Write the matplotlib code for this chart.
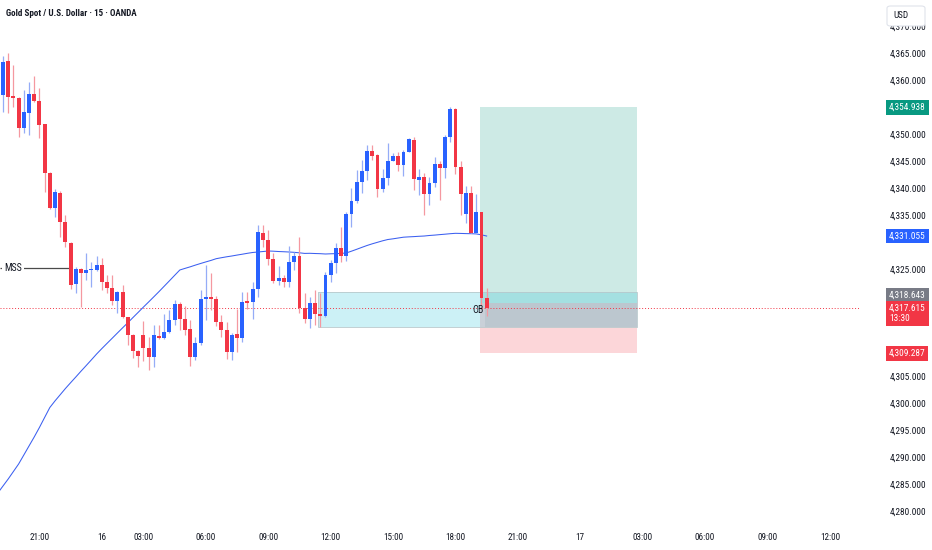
import numpy as np
import matplotlib.pyplot as plt
import matplotlib.patches as mpatches
import matplotlib.transforms as mtransforms
from matplotlib import font_manager as fm
from matplotlib.textpath import TextPath

DPI = 100

# 15m candles, bar index starts at -7 (first visible bar)
first_bar = -7
opens = [4357.26, 4363.63, 4356.98, 4356.64, 4351.07, 4353.97, 4357.39, 4356.20, 4351.82, 4342.72,
         4336.22, 4339.11, 4333.73, 4329.83, 4322.10, 4325.00, 4324.26, 4324.67, 4324.76, 4325.63,
         4322.53, 4321.42, 4319.00, 4320.67, 4315.97, 4312.69, 4309.72, 4312.74, 4310.22, 4308.55,
         4312.50, 4312.19, 4313.30, 4315.47, 4318.39, 4315.66, 4313.75, 4308.55, 4311.15, 4319.32,
         4319.80, 4319.32, 4315.16, 4313.62, 4309.59, 4312.82, 4312.08, 4318.87, 4318.76, 4321.17,
         4331.69, 4330.33, 4326.75, 4322.77, 4323.22, 4322.59, 4326.30, 4327.36, 4317.65, 4315.72,
         4318.69, 4316.53, 4316.27, 4323.83, 4326.00, 4328.79, 4327.41, 4335.10, 4337.63, 4341.16,
         4343.20, 4346.91, 4346.06, 4339.75, 4341.90, 4345.06, 4345.93, 4344.26, 4346.73, 4348.90,
         4341.47, 4342.08, 4338.87, 4340.97, 4344.44, 4343.64, 4349.40, 4354.60, 4343.94, 4335.16,
         4339.00, 4331.69, 4335.47, 4319.50]
closes = [4363.44, 4356.94, 4356.79, 4351.07, 4354.16, 4357.39, 4356.20, 4351.69, 4342.72, 4336.22,
          4339.30, 4333.73, 4329.90, 4321.97, 4325.00, 4324.15, 4324.76, 4324.85, 4325.63, 4322.53,
          4321.36, 4319.00, 4320.67, 4315.97, 4312.69, 4309.72, 4308.73, 4310.22, 4308.55, 4312.69,
          4312.19, 4313.30, 4315.47, 4318.39, 4315.66, 4313.62, 4308.55, 4311.15, 4319.32, 4319.80,
          4319.32, 4315.16, 4313.62, 4309.59, 4312.69, 4312.08, 4318.76, 4318.72, 4321.17, 4331.87,
          4330.33, 4326.75, 4322.72, 4323.22, 4322.59, 4326.30, 4327.36, 4317.65, 4315.72, 4318.57,
          4316.59, 4316.27, 4323.83, 4326.00, 4328.79, 4327.41, 4335.10, 4337.63, 4341.16, 4343.20,
          4346.91, 4345.93, 4339.75, 4341.90, 4345.06, 4345.87, 4344.26, 4346.73, 4349.03, 4341.60,
          4342.08, 4338.87, 4340.97, 4344.44, 4343.64, 4349.51, 4354.60, 4343.83, 4338.87, 4339.00,
          4331.69, 4335.47, 4319.50, 4317.61]
highs = [4364.50, 4365.00, 4362.83, 4356.89, 4358.18, 4359.73, 4360.78, 4358.50, 4351.87, 4342.96,
         4339.80, 4339.43, 4334.97, 4329.96, 4325.37, 4325.22, 4327.86, 4326.30, 4327.36, 4326.93,
         4323.78, 4323.83, 4320.86, 4321.97, 4316.03, 4312.87, 4309.90, 4315.38, 4312.37, 4314.55,
         4314.55, 4316.59, 4317.33, 4319.19, 4318.87, 4318.07, 4315.47, 4312.37, 4321.04, 4325.69,
         4324.15, 4319.93, 4316.40, 4315.16, 4313.00, 4317.46, 4320.73, 4320.73, 4322.59, 4333.12,
         4333.12, 4332.19, 4327.86, 4325.50, 4323.83, 4329.22, 4328.16, 4330.94, 4320.49, 4319.80,
         4321.04, 4320.43, 4324.44, 4326.62, 4329.72, 4332.80, 4335.58, 4339.93, 4343.33, 4345.19,
         4347.97, 4347.97, 4346.30, 4343.46, 4348.29, 4346.43, 4346.73, 4347.04, 4349.27, 4349.51,
         4343.46, 4342.72, 4342.08, 4345.80, 4345.00, 4349.83, 4354.97, 4354.84, 4345.00, 4340.36,
         4340.36, 4338.87, 4335.62, 4321.36]
lows = [4354.16, 4353.97, 4355.03, 4349.51, 4350.20, 4349.83, 4356.05, 4349.22, 4339.30, 4336.09,
        4334.66, 4330.94, 4329.09, 4321.17, 4320.43, 4317.94, 4322.90, 4321.66, 4324.57, 4321.04,
        4320.43, 4318.26, 4316.77, 4315.84, 4310.83, 4308.36, 4306.75, 4307.86, 4306.19, 4306.80,
        4311.95, 4311.95, 4313.15, 4314.55, 4313.62, 4312.69, 4306.93, 4308.05, 4310.83, 4315.47,
        4317.33, 4314.36, 4312.37, 4308.18, 4308.05, 4309.59, 4311.44, 4317.46, 4315.60, 4319.80,
        4329.09, 4325.69, 4322.29, 4321.97, 4321.55, 4321.66, 4324.76, 4316.72, 4314.92, 4313.93,
        4314.55, 4314.23, 4316.12, 4322.59, 4324.15, 4326.30, 4326.49, 4332.80, 4337.14, 4339.00,
        4341.47, 4345.19, 4338.37, 4339.30, 4340.54, 4345.00, 4343.20, 4342.21, 4346.67, 4339.61,
        4338.69, 4334.97, 4336.83, 4340.12, 4337.76, 4341.79, 4348.58, 4342.59, 4334.97, 4333.54,
        4331.57, 4331.54, 4318.26, 4316.22]

# moving average, one value per bar starting one bar before the first candle
ma_first_bar = -8
ma = [4283.35, 4284.65, 4285.95, 4287.34, 4288.73, 4290.40, 4292.08, 4293.75, 4295.51, 4297.37,
      4299.22, 4300.45, 4301.60, 4302.75, 4303.83, 4304.89, 4305.97, 4307.02, 4308.08, 4309.16,
      4310.16, 4311.13, 4312.09, 4313.06, 4314.02, 4314.97, 4315.94, 4316.90, 4317.87, 4318.82,
      4319.78, 4320.75, 4321.75, 4322.75, 4323.76, 4324.76, 4325.06, 4325.35, 4325.67, 4325.97,
      4326.26, 4326.54, 4326.86, 4327.04, 4327.21, 4327.36, 4327.53, 4327.69, 4327.86, 4328.01,
      4328.10, 4328.19, 4328.29, 4328.25, 4328.19, 4328.15, 4328.10, 4328.04, 4327.95, 4327.84,
      4327.86, 4327.82, 4327.79, 4327.73, 4327.77, 4327.80, 4327.84, 4327.92, 4328.25, 4328.60,
      4328.96, 4329.31, 4329.62, 4329.90, 4330.18, 4330.42, 4330.55, 4330.70, 4330.85, 4330.91,
      4330.96, 4331.02, 4331.07, 4331.17, 4331.24, 4331.33, 4331.41, 4331.50, 4331.57, 4331.55,
      4331.52, 4331.50, 4331.46, 4331.29, 4331.07]

tick_bars = [0, 12, 20, 32, 44, 56, 68, 80, 92, 104, 116, 128, 140, 152]
tick_labels = ['21:00', '16', '03:00', '06:00', '09:00', '12:00', '15:00', '18:00',
               '21:00', '17', '03:00', '06:00', '09:00', '12:00']
price_ticks = np.arange(4280, 4371, 5)
covered_ticks = [4310, 4315, 4320, 4330]  # hidden under the price tags

# drawings
mss_level = 4325.1
mss_start, mss_end = -7.6, 5.6
ob_top, ob_bottom = 4320.67, 4314.17
ob_start = 53.6
pos_start, pos_end = 84.7, 114.9
take_profit = 4354.938
entry = 4318.643
stop_loss = 4309.287
last_price = 4317.615
ma_last = 4331.055
title = 'Gold Spot / U.S. Dollar · 15 · OANDA'

UP = '#2962ff'
DOWN = '#f23645'
UP_WICK = '#95acf7'
DOWN_WICK = '#f598a0'
TXT = '#131722'


# --- pick the narrowest installed sans face (the screenshot text is condensed) ---
def text_width_px(s, prop, size):
    w10 = TextPath((0, 0), s, size=10, prop=prop).get_extents().width
    return w10 * size / 10 * DPI / 72


ok_names = ('DejaVu Sans', 'Liberation Sans', 'Noto Sans', 'Roboto', 'Open Sans', 'Lato', 'Inter')
best, best_w = None, 1e9
for f in fm.fontManager.ttflist:
    if not f.name.startswith(ok_names) or any(k in f.name for k in ('Mono', 'CJK', 'Display')):
        continue
    if f.style != 'normal' or str(f.weight) not in ('400', 'normal', 'regular', 'book'):
        continue
    try:
        w = text_width_px('4,365.000', fm.FontProperties(fname=f.fname), 10)
    except Exception:
        continue
    if 0 < w < best_w:
        best, best_w = f, w

if best is not None:
    base = fm.FontProperties(fname=best.fname)
    bold = base
    for f in fm.fontManager.ttflist:
        if f.name == best.name and f.stretch == best.stretch and f.style == 'normal' \
                and str(f.weight) in ('700', 'bold', '600', 'semibold'):
            bold = fm.FontProperties(fname=f.fname)
            break
else:
    base = fm.FontProperties(family='DejaVu Sans')
    bold = fm.FontProperties(family='DejaVu Sans', weight='bold')


def sized(prop, size):
    p = prop.copy()
    p.set_size(size)
    return p


# size so the price labels are as wide as in the screenshot (~36 px)
FS = float(np.clip(36 / text_width_px('4,365.000', base, 1), 5.8, 7.6))
F_AX = sized(base, FS)
F_X = sized(base, FS * 0.97)
F_TAG = sized(base, FS)
F_NOTE = sized(base, FS * 1.05)
F_TITLE = sized(bold, float(np.clip(130 / text_width_px(title, bold, 1), 5.5, 7.5)))
F_USD = sized(base, float(np.clip(14 / text_width_px('USD', base, 1), 5.5, 7.5)))

fig = plt.figure(figsize=(9.32, 5.5), dpi=DPI)
ax = fig.add_axes([0, 28 / 550, 860 / 932, 522 / 550])
ax.set_xlim(-7.58, 157.8)
ax.set_ylim(4277.96, 4374.90)

x = np.arange(first_bar, first_bar + len(opens))
o = np.array(opens); c = np.array(closes)
h = np.array(highs); l = np.array(lows)
up = c >= o
body_lo = np.minimum(o, c)
body_h = np.maximum(np.abs(c - o), 0.25)

ax.vlines(x[up], l[up], h[up], color=UP_WICK, lw=0.9, zorder=3)
ax.vlines(x[~up], l[~up], h[~up], color=DOWN_WICK, lw=0.9, zorder=3)
ax.bar(x[up], body_h[up], bottom=body_lo[up], width=0.74, color=UP, zorder=4, linewidth=0)
ax.bar(x[~up], body_h[~up], bottom=body_lo[~up], width=0.74, color=DOWN, zorder=4, linewidth=0)

xm = np.arange(ma_first_bar, ma_first_bar + len(ma))
ax.plot(xm, ma, color='#3b5ff0', lw=0.75, zorder=2.8)

# order block zone
ax.add_patch(mpatches.Rectangle((ob_start, ob_bottom), pos_end - ob_start, ob_top - ob_bottom,
                                facecolor='#00bcd4', alpha=0.2, edgecolor='none', zorder=1.2))
ax.add_patch(mpatches.Rectangle((ob_start, ob_bottom), pos_end - ob_start, ob_top - ob_bottom,
                                facecolor='none', edgecolor='#b8c9cc', lw=0.6, zorder=1.3))
# long position tool
ax.add_patch(mpatches.Rectangle((pos_start, entry), pos_end - pos_start, take_profit - entry,
                                facecolor='#089981', alpha=0.2, edgecolor='none', zorder=1))
ax.add_patch(mpatches.Rectangle((pos_start, stop_loss), pos_end - pos_start, entry - stop_loss,
                                facecolor='#f23645', alpha=0.2, edgecolor='none', zorder=1))
ax.add_patch(mpatches.Rectangle((pos_start + 1, ob_bottom), pos_end - pos_start - 1, entry - ob_bottom,
                                facecolor='#787b86', alpha=0.12, edgecolor='none', zorder=1.1))

ax.axhline(last_price, color=DOWN, lw=0.7, ls=(0, (1, 2)), zorder=2)

ax.hlines(mss_level, mss_start, mss_end, color='#4a4a4a', lw=0.9, zorder=3)
ax.text(-5.1, mss_level, 'MSS', fontproperties=F_NOTE, color=TXT, ha='center', va='center', zorder=5,
        bbox=dict(boxstyle='square,pad=0.2', fc='white', ec='none'))
ax.text(84.3, 4317.3, 'OB', fontproperties=F_NOTE, color=TXT, ha='center', va='center', zorder=6)

# axes styling
for s in ax.spines.values():
    s.set_visible(False)
ax.yaxis.tick_right()
ax.set_yticks(price_ticks)
ax.set_yticklabels(['' if v in covered_ticks else f'{v:,.3f}' for v in price_ticks],
                   fontproperties=F_AX)
ax.tick_params(axis='y', length=0, pad=21.5, labelcolor=TXT)
ax.set_xticks(tick_bars)
ax.set_xticklabels(tick_labels, fontproperties=F_X)
ax.tick_params(axis='x', length=0, pad=8, labelcolor=TXT)

# price scale tags
trans = mtransforms.blended_transform_factory(fig.transFigure, ax.transData)


def price_tag(y, text, color, dy=0):
    ax.annotate(text, xy=(889 / 932, y), xycoords=trans, xytext=(0, dy), textcoords='offset pixels',
                ha='left', va='center', color='white', fontproperties=F_TAG, zorder=10,
                annotation_clip=False, linespacing=1.2,
                bbox=dict(boxstyle='square,pad=0.3', fc=color, ec='none'))


price_tag(take_profit, f'{take_profit:,.3f}', '#089981')
price_tag(ma_last, f'{ma_last:,.3f}', '#2962ff')
price_tag(entry, f'{entry:,.3f}', '#787b86', dy=8)
price_tag(last_price, f'{last_price:,.3f}\n13:30', DOWN, dy=-5)
price_tag(stop_loss, f'{stop_loss:,.3f}', DOWN)

# currency box
fig.add_artist(mpatches.FancyBboxPatch((887 / 932, 1 - 26 / 550), 38 / 932, 20 / 550,
                                       boxstyle='round,pad=0,rounding_size=0.004',
                                       transform=fig.transFigure, fc='white', ec='#e0e3eb', lw=0.8,
                                       zorder=20))
fig.text(893 / 932, 1 - 15 / 550, 'USD', fontproperties=F_USD, color=TXT, va='center', zorder=21)

fig.text(6 / 932, 1 - 13 / 550, title, fontproperties=F_TITLE, color=TXT, va='center')

fig.savefig('out.png', dpi=DPI, facecolor='white')
